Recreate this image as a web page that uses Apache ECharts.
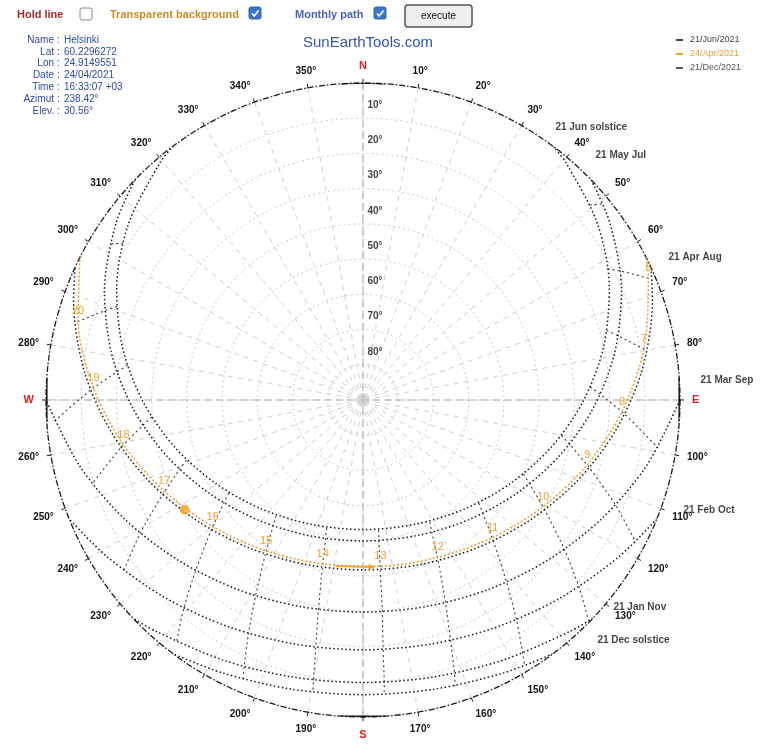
<!DOCTYPE html>
<html>
<head>
<meta charset="utf-8">
<title>Sun path</title>
<script src="https://cdn.jsdelivr.net/npm/echarts@6/dist/echarts.min.js"></script>
<style>
  html, body { margin: 0; padding: 0; background: #ffffff; }
  #chart { width: 760px; height: 746px; }
</style>
</head>
<body>
<div id="chart"></div>
<script>
// ---- axis ticks ----
const elevationTicks = [10, 20, 30, 40, 50, 60, 70, 80];
const elevationTickLabels = ['10°', '20°', '30°', '40°', '50°', '60°', '70°', '80°'];
const compassNames = { 0: 'N', 90: 'E', 180: 'S', 270: 'W', 360: 'N' };

// ---- monthly sun paths, points as [azimuth °, elevation °] ----
const junPath = [[36.8,0],[40.5,1.32],[53.1,6.74],[65.5,13.14],[77.8,20.19],[90.5,27.59],[104.2,34.97],[119.4,41.87],[137.0,47.71],[157.4,51.76],[180,53.2],[202.6,51.76],[223.0,47.71],[240.6,41.87],[255.8,34.97],[269.5,27.59],[282.2,20.19],[294.5,13.14],[306.9,6.74],[319.5,1.32],[323.2,0]];
const mayJulPath = [[46.0,0],[54.5,3.82],[67.1,10.31],[79.6,17.44],[92.5,24.86],[106.2,32.19],[121.4,39.00],[138.7,44.70],[158.5,48.59],[180,49.98],[201.5,48.59],[221.3,44.70],[238.6,39.00],[253.8,32.19],[267.5,24.86],[280.4,17.44],[292.9,10.31],[305.5,3.82],[314.0,0]];
const aprAugPath = [[65.3,0],[71.1,3.14],[84.0,10.39],[97.0,17.82],[110.8,25.04],[125.7,31.60],[142.2,36.95],[160.5,40.51],[180,41.77],[199.5,40.51],[217.8,36.95],[234.3,31.60],[249.2,25.04],[263.0,17.82],[276.0,10.39],[288.9,3.14],[294.7,0]];
const marSepPath = [[90,0],[103.1,7.39],[116.6,14.38],[130.9,20.56],[146.4,25.48],[162.8,28.67],[180,29.78],[197.2,28.67],[213.6,25.48],[229.1,20.56],[243.4,14.38],[256.9,7.39],[270,0]];
const febOctPath = [[112.0,0],[121.4,4.76],[135.0,10.60],[149.4,15.16],[164.5,18.08],[180,19.08],[195.5,18.08],[210.6,15.16],[225.0,10.60],[238.6,4.76],[248.0,0]];
const janNovPath = [[133.5,0],[138.3,1.90],[151.8,6.17],[165.7,8.86],[180,9.78],[194.3,8.86],[208.2,6.17],[221.7,1.90],[226.5,0]];
const decPath = [[143.2,0],[152.7,2.83],[166.2,5.45],[180,6.34],[193.8,5.45],[207.3,2.83],[216.8,0]];
const monthlyNames = ['21 Jun solstice', '21 May Jul', '21 Apr Aug', '21 Mar Sep', '21 Feb Oct', '21 Jan Nov', '21 Dec solstice'];

// ---- hour lines (local clock time), points from June to December ----
const hourLineHours = [5, 6, 7, 8, 9, 10, 11, 12, 13, 14, 15, 16, 17, 18, 19, 20, 21];
const hourLinePoints = [
  [[49.3,5.11],[50.7,2.10]],
  [[61.8,11.22],[63.3,8.36],[67.3,1.07]],
  [[74.1,18.08],[75.9,15.30],[80.1,8.22]],
  [[86.7,25.37],[88.6,22.63],[93.1,15.59],[99.2,5.17]],
  [[100.1,32.76],[102.1,29.99],[106.7,22.87],[112.6,12.28],[117.5,2.76]],
  [[114.8,39.80],[116.8,36.96],[121.2,29.63],[126.6,18.71],[130.9,8.85],[134.4,0.34]],
  [[131.7,45.96],[133.5,42.99],[137.3,35.35],[141.8,24.00],[145.1,13.79],[147.8,4.89],[148.7,1.64]],
  [[151.3,50.55],[152.6,47.42],[155.0,39.44],[157.9,27.71],[160.0,17.20],[161.5,8.05],[162.2,4.66]],
  [[173.2,52.77],[173.6,49.56],[174.2,41.39],[174.8,29.45],[175.4,18.78],[175.7,9.50],[175.9,6.07]],
  [[195.8,52.19],[195.1,49.01],[193.6,40.89],[192.0,29.00],[190.8,18.38],[190.0,9.14],[189.7,5.72]],
  [[216.9,48.93],[215.4,45.87],[212.3,38.02],[208.7,26.44],[206.1,16.04],[204.0,6.98],[203.2,3.62]],
  [[235.3,43.62],[233.4,40.71],[229.4,33.21],[224.4,22.04],[220.7,11.97],[217.6,3.18]],
  [[251.2,37.04],[249.2,34.23],[244.7,27.01],[239.1,16.23],[234.5,6.51]],
  [[265.4,29.80],[263.4,27.06],[258.9,19.99],[252.8,9.49]],
  [[278.4,22.41],[276.5,19.67],[272.1,12.62],[266.1,2.22]],
  [[290.8,15.26],[289.1,12.45],[285.0,5.32]],
  [[303.2,8.66],[301.7,5.77]]
];

// ---- selected day: 24 Apr 2021 ----
const todayPath = [[63.3,0],[66.8,1.85],[79.7,8.96],[92.6,16.38],[106.1,23.72],[120.6,30.55],[136.7,36.35],[154.6,40.56],[174.0,42.57],[193.8,42.06],[212.7,39.11],[229.9,34.20],[245.4,27.91],[259.4,20.82],[272.6,13.40],[285.5,6.06],[296.7,0]];
const todayHours = ['', '6', '7', '8', '9', '10', '11', '12', '13', '14', '15', '16', '17', '18', '19', '20', ''];
const noonArrow = [[189.5,42.2],[176.9,42.5]];
const sunNow = [238.42, 30.56];

// ---- info panel ----
const infoKeys = ['Name', 'Lat', 'Lon', 'Date', 'Time', 'Azimut', 'Elev.'];
const infoValues = ['Helsinki', '60.2296272', '24.9149551', '24/04/2021', '16:33:07 +03', sunNow[0].toFixed(2) + '°', sunNow[1].toFixed(2) + '°'];
const legendNames = ['21/Jun/2021', '24/Apr/2021', '21/Dec/2021'];

// label placement for the monthly path names (pixels, relative to the sunrise point)
const monthlyLabelOffsets = [[2,-19],[4,-25],[17,-10],[20,-20],[26,-9],[20,-11],[44,-14]];

const FONT = 'Liberation Sans';
const ORANGE = '#f0a030';
const toPolar = p => [p[1], p[0]];   // series data are [radius, angle]

const series = [];

// N-S and E-W axes through the centre
[[[0,0],[90,0],[0,180]], [[0,90],[90,90],[0,270]]].forEach(d => {
  series.push({
    type: 'line', coordinateSystem: 'polar', data: d, showSymbol: false, silent: true, z: 1,
    lineStyle: { color: '#b4b4b4', width: 1.2, type: [8, 4] }
  });
});

// solid compass marks on the horizon ring
[[[0,356],[0,360]], [[0,0],[0,4]], [[0,86],[0,94]], [[0,176],[0,184]], [[0,266],[0,274]]].forEach(d => {
  series.push({
    type: 'line', coordinateSystem: 'polar', data: d, showSymbol: false, silent: true, z: 4,
    lineStyle: { color: '#111', width: 1.6 }
  });
});

// hour lines
hourLinePoints.forEach((pts, i) => {
  series.push({
    type: 'line', coordinateSystem: 'polar', name: 'h' + hourLineHours[i],
    data: pts.map(toPolar), showSymbol: false, silent: true, smooth: 0.2, z: 2,
    lineStyle: { color: '#3a3a3a', width: 1.1, type: [2, 3] }
  });
});

// monthly paths
const monthlyPaths = [junPath, mayJulPath, aprAugPath, marSepPath, febOctPath, janNovPath, decPath];
monthlyPaths.forEach((path, i) => {
  series.push({
    type: 'line', coordinateSystem: 'polar', name: monthlyNames[i],
    data: path.map(toPolar), showSymbol: false, silent: true, smooth: 0.3, z: 3,
    lineStyle: { color: '#151515', width: 1.5, type: [1.5, 2.5] }
  });
});

// monthly path names at the sunrise points
series.push({
  type: 'scatter', coordinateSystem: 'polar', symbolSize: 1, silent: true, z: 6,
  itemStyle: { color: 'transparent' },
  data: monthlyPaths.map((path, i) => ({
    value: toPolar(path[0]),
    label: { offset: monthlyLabelOffsets[i] }
  })),
  label: {
    show: true, position: 'right', distance: 0, color: '#111',
    fontFamily: FONT, fontSize: 10, fontWeight: 'bold',
    formatter: p => monthlyNames[p.dataIndex]
  }
});

// selected day path with hour labels
series.push({
  type: 'line', coordinateSystem: 'polar', name: legendNames[1],
  data: todayPath.map((p, i) => [p[1], p[0], todayHours[i]]),
  showSymbol: true, symbol: 'circle', symbolSize: 1, smooth: 0.3, silent: true, z: 5,
  itemStyle: { color: ORANGE },
  lineStyle: { color: ORANGE, width: 1.6, type: [2, 2] },
  label: {
    show: true, position: 'top', distance: 4, color: ORANGE,
    fontFamily: FONT, fontSize: 11,
    formatter: p => p.data[2]
  }
});

// noon marker
series.push({
  type: 'line', coordinateSystem: 'polar', silent: true, z: 6,
  data: [
    { value: toPolar(noonArrow[0]), symbol: 'none' },
    { value: toPolar(noonArrow[1]), symbol: 'triangle', symbolSize: [6, 7], symbolRotate: -90 }
  ],
  itemStyle: { color: ORANGE },
  lineStyle: { color: ORANGE, width: 1.8 }
});

// current sun position
series.push({
  type: 'scatter', coordinateSystem: 'polar', silent: true, z: 7,
  data: [toPolar(sunNow)], symbolSize: 10, itemStyle: { color: ORANGE }
});

// elevation ring labels along the north axis
series.push({
  type: 'scatter', coordinateSystem: 'polar', symbolSize: 1, silent: true, z: 6,
  itemStyle: { color: 'transparent' },
  data: elevationTicks.map(e => [e, 0]),
  label: {
    show: true, position: 'right', distance: 4, offset: [0, -13],
    color: '#111', fontFamily: FONT, fontSize: 10, fontWeight: 'bold',
    formatter: p => elevationTickLabels[p.dataIndex]
  }
});

// ---- page furniture drawn with graphic elements ----
const graphic = [];
function text(x, y, str, fill, size, extra) {
  graphic.push({
    type: 'text', x: x, y: y,
    style: { text: str, fill: fill, font: (extra && extra.bold ? 'bold ' : '') + size + 'px ' + FONT,
             textAlign: (extra && extra.align) || 'left', textVerticalAlign: 'middle' }
  });
}
function checkbox(x, y, checked) {
  graphic.push({
    type: 'rect', shape: { x: x, y: y, width: 12, height: 12, r: 2 },
    style: checked ? { fill: '#3b74c9', stroke: '#2f62ad', lineWidth: 1 } : { fill: '#fff', stroke: '#8a8a8a', lineWidth: 1 }
  });
  if (checked) {
    graphic.push({
      type: 'polyline', shape: { points: [[x + 3, y + 6.5], [x + 5.2, y + 9], [x + 9.5, y + 3.5]] },
      style: { stroke: '#fff', lineWidth: 1.6, fill: null }
    });
  }
}
text(17, 15, 'Hold line', '#a52a2a', 11, { bold: true });
checkbox(80, 8, false);
text(110, 15, 'Transparent background', '#c98a2c', 11, { bold: true });
checkbox(249, 7, true);
text(295, 15, 'Monthly path', '#4b62b3', 11, { bold: true });
checkbox(374, 7, true);
graphic.push({
  type: 'rect', shape: { x: 405, y: 5, width: 67, height: 22, r: 3 },
  style: { fill: '#efefef', stroke: '#555', lineWidth: 1.5 }
});
text(438.5, 16, 'execute', '#111', 10, { align: 'center' });

// title
text(368, 43, 'SunEarthTools.com', '#3552b5', 15, { align: 'center' });

// info panel
infoKeys.forEach((k, i) => {
  const y = 40 + i * 11.8;
  text(54, y, k, '#2f4aa8', 10, { align: 'right' });
  text(57, y, ':', '#2f4aa8', 10);
  text(64, y, infoValues[i], '#2f4aa8', 10);
});

// legend
const legendColors = ['#444', ORANGE, '#555'];
legendNames.forEach((n, i) => {
  const y = 40 + i * 14;
  graphic.push({
    type: 'line', shape: { x1: 676, y1: y, x2: 683, y2: y },
    style: { stroke: legendColors[i], lineWidth: 2 }
  });
  text(690, y, n, legendColors[i], 9);
});

const chart = echarts.init(document.getElementById('chart'), null, { renderer: 'canvas' });
chart.setOption({
  backgroundColor: '#ffffff',
  animation: false,
  polar: { center: [363, 400], radius: 317 },
  angleAxis: {
    type: 'value', min: 0, max: 360, interval: 10,
    startAngle: 90, clockwise: true,
    axisLine: { show: true, lineStyle: { color: '#1c1c1c', width: 1.3, type: [6, 2, 1.5, 2] } },
    axisTick: { show: true, length: 4, lineStyle: { color: '#1c1c1c' } },
    axisLabel: {
      show: true, margin: 12, color: '#111', fontFamily: FONT, fontSize: 10, fontWeight: 'bold',
      formatter: v => compassNames[v] !== undefined ? '{c|' + compassNames[v] + '}' : v + '°',
      rich: { c: { color: '#e8231d', fontSize: 11, fontWeight: 'bold', fontFamily: FONT } }
    },
    splitLine: { show: true, lineStyle: { color: '#d0d0d0', width: 1, type: [5, 5] } }
  },
  radiusAxis: {
    type: 'value', min: 0, max: 90, interval: 10, inverse: true,
    axisLine: { show: false }, axisTick: { show: false }, axisLabel: { show: false },
    splitLine: { show: true, lineStyle: { color: '#c9c9c9', width: 1, type: [2, 3] } }
  },
  series: series,
  graphic: graphic
});
</script>
</body>
</html>
